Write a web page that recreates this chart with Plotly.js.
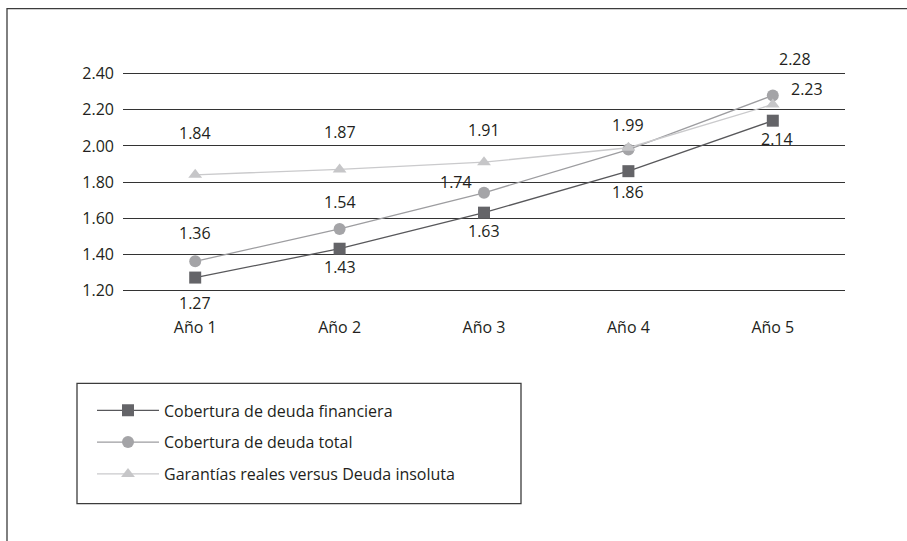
<!DOCTYPE html>
<html>
<head>
<meta charset="utf-8">
<script src="https://cdn.plot.ly/plotly-3.0.1.min.js"></script>
<style>html,body{margin:0;padding:0;background:#fff;}#chart{width:907px;height:541px;}</style>
</head>
<body>
<div id="chart"></div>
<script>
// ---- data ----
const categories = ["Año 1", "Año 2", "Año 3", "Año 4", "Año 5"];
const seriesNames = ["Cobertura de deuda financiera", "Cobertura de deuda total", "Garantías reales versus Deuda insoluta"];
const deudaFinanciera = [1.27, 1.43, 1.63, 1.86, 2.14];
const deudaTotal = [1.36, 1.54, 1.74, 1.98, 2.28];
const garantias = [1.84, 1.87, 1.91, 1.99, 2.23];
const yTicks = [1.20, 1.40, 1.60, 1.80, 2.00, 2.20, 2.40];

// which labels are shown (the reference hides one overlapped label)
const showFin = [true, true, true, true, true];
const showTot = [true, true, true, false, true];
const showGar = [true, true, true, true, true];

// label offsets in px (dx right, dy down) relative to marker
const offFin = [[0,25],[0,18],[0,18],[0,21],[4,18]];
const offTot = [[0,-28],[0,-27],[-28,-11],[0,0],[22,-36]];
const offGar = [[0,-42],[0,-37],[0,-32],[0,-23],[34,-15]];

const textColor = "#231f20";
const font = {family: "'Open Sans', sans-serif", size: 16, color: textColor};

const styles = [
  {line: "#58585b", marker: "#646468", symbol: "square", size: 12},
  {line: "#9d9da0", marker: "#a4a4a7", symbol: "circle", size: 12},
  {line: "#cacacc", marker: "#c6c6c8", symbol: "triangle-up", size: 12}
];
const allSeries = [deudaFinanciera, deudaTotal, garantias];
const shows = [showFin, showTot, showGar];
const offs = [offFin, offTot, offGar];

const traces = allSeries.map((vals, i) => ({
  type: "scatter",
  mode: "lines+markers",
  name: seriesNames[i],
  legendgroup: "g" + i,
  x: categories,
  y: vals,
  line: {color: styles[i].line, width: 1.3},
  marker: {color: styles[i].marker, symbol: styles[i].symbol, size: styles[i].size},
  cliponaxis: false,
  hoverinfo: "skip"
}));

const annotations = [];
allSeries.forEach((vals, i) => {
  vals.forEach((v, j) => {
    if (!shows[i][j]) return;
    annotations.push({
      x: categories[j], y: v, xref: "x", yref: "y",
      text: v.toFixed(2), showarrow: false,
      xshift: offs[i][j][0], yshift: -offs[i][j][1],
      font: font, xanchor: "center", yanchor: "middle"
    });
  });
});

// plot area: y range padded slightly so edge gridlines are drawn
const yMin = 1.19, yMax = 2.41;
const pxPerUnit = 180;
const L = 123, R = 845;
const T = 74 - (yMax - 2.40) * pxPerUnit, B = 290 + (1.20 - yMin) * pxPerUnit;
const px = v => (v - L) / (R - L);
const py = v => (B - v) / (B - T);

const shapes = [
  {type: "rect", xref: "paper", yref: "paper", x0: px(7), x1: px(960), y0: py(9), y1: py(600),
   line: {color: "#3c3c3c", width: 1.3}, fillcolor: "rgba(0,0,0,0)", layer: "below"},
  {type: "rect", xref: "paper", yref: "paper", x0: px(77), x1: px(521), y0: py(383), y1: py(503),
   line: {color: "#3c3c3c", width: 1.3}, fillcolor: "rgba(0,0,0,0)", layer: "below"}
];

const layout = {
  width: 907, height: 541,
  margin: {l: L, r: 907 - R, t: T, b: 541 - B, pad: 0},
  paper_bgcolor: "#fff", plot_bgcolor: "#fff",
  font: font,
  showlegend: true,
  legend: {
    x: px(92), y: py(393), xanchor: "left", yanchor: "top",
    traceorder: "grouped", tracegroupgap: 8,
    itemwidth: 62, font: font, bgcolor: "rgba(0,0,0,0)", borderwidth: 0
  },
  xaxis: {
    type: "category", range: [-0.5, 4.5], showgrid: false, zeroline: false, showline: false,
    ticks: "", ticklabelstandoff: 24, tickfont: font, fixedrange: true
  },
  yaxis: {
    range: [yMin, yMax], tickvals: yTicks, tickformat: ".2f", showgrid: true,
    gridcolor: "#333333", gridwidth: 1, zeroline: false, showline: false,
    ticks: "", ticklabelstandoff: 8, tickfont: font, fixedrange: true
  },
  annotations: annotations,
  shapes: shapes
};

Plotly.newPlot("chart", traces, layout, {displayModeBar: false, staticPlot: true});
</script>
</body>
</html>
